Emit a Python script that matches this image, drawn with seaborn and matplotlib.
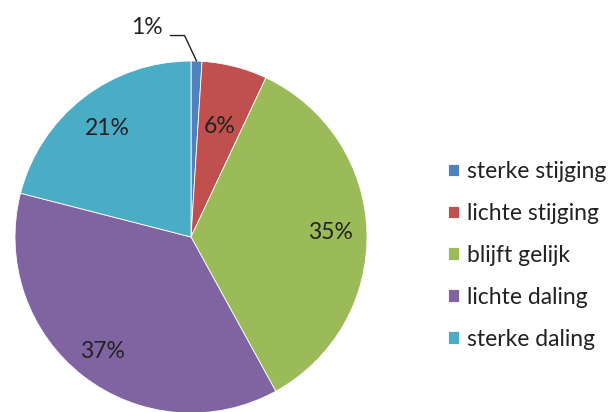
import matplotlib
matplotlib.use("Agg")
import matplotlib.pyplot as plt
import seaborn as sns
import numpy as np

# data
categories = ["sterke stijging", "lichte stijging", "blijft gelijk", "lichte daling", "sterke daling"]
shares = [1, 6, 35, 37, 21]
colors = ["#4F81BD", "#C0504D", "#9BBB59", "#8064A2", "#4BACC6"]
# how far out (fraction of radius) each percentage sits
label_dist = [1.0, 0.65, 0.79, 0.82, 0.78]

sns.set_theme(style="white")
plt.rcParams['font.family'] = ['Lato', 'DejaVu Sans']

fig = plt.figure(figsize=(6.11, 4.12), dpi=100)
ax = fig.add_axes([15 / 611, -1 / 412, 352 / 611, 352 / 412])

wedges, texts, autotexts = ax.pie(
    shares, colors=colors, startangle=90, counterclock=False,
    autopct="%1.0f%%", pctdistance=0.75,
    wedgeprops=dict(edgecolor="white", linewidth=0.6),
    textprops=dict(color="#222222", fontsize=16.5))
ax.set_xlim(-1, 1)
ax.set_ylim(-1, 1)
ax.set_aspect("equal")

for w, t, d in zip(wedges, autotexts, label_dist):
    a = np.deg2rad((w.theta1 + w.theta2) / 2)
    t.set_position((d * np.cos(a), d * np.sin(a)))

# smallest slice gets its label outside with a leader line
w = wedges[0]
ang = np.deg2rad((w.theta1 + w.theta2) / 2)
autotexts[0].set_visible(False)
ax.annotate("1%", xy=(np.cos(ang), np.sin(ang)), xytext=(-0.25, 1.19),
            fontsize=16.5, color="#222222",
            ha="center", va="center", annotation_clip=False,
            arrowprops=dict(arrowstyle="-", color="#222222", lw=1.0,
                            shrinkA=3, shrinkB=0, relpos=(1, 0.12),
                            connectionstyle="angle,angleA=0,angleB=115,rad=0"))

leg = fig.legend(wedges, categories, loc="center left", bbox_to_anchor=(0.714, 0.38),
                 frameon=False, fontsize=16.5, labelspacing=0.91, borderpad=0,
                 handlelength=0.48, handleheight=0.48, handletextpad=0.35)
for t in leg.get_texts():
    t.set_color("#222222")

fig.savefig("out.png", dpi=100)
